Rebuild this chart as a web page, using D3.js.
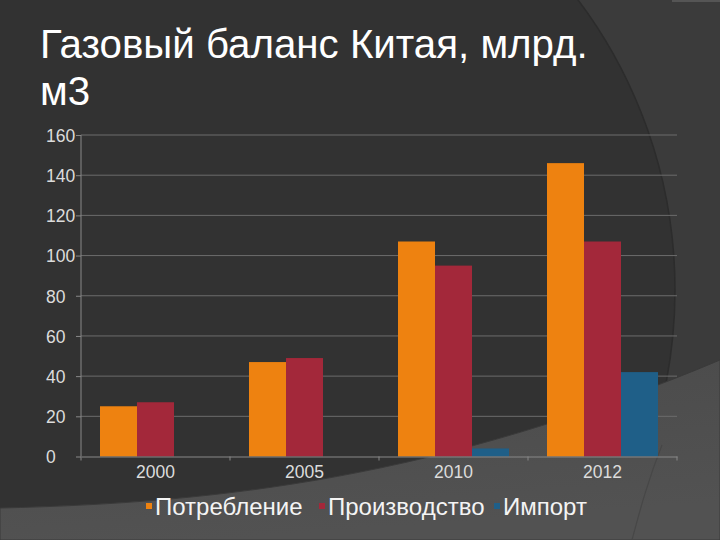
<!DOCTYPE html>
<html><head><meta charset="utf-8">
<script src="https://cdn.jsdelivr.net/npm/d3@7"></script>
<style>html,body{margin:0;padding:0;background:#333;}svg{display:block;}</style>
</head><body>
<svg id="c" width="720" height="540"></svg>
<script>
const titleLines = ["Газовый баланс Китая, млрд.", "м3"];
const categories = ["2000", "2005", "2010", "2012"];
const seriesNames = ["Потребление", "Производство", "Импорт"];
const consumption = [25, 47, 107, 146];
const production = [27, 49, 95, 107];
const imports = [0, 0, 4, 42];
const yTicks = [0, 20, 40, 60, 80, 100, 120, 140, 160];
const colors = ["#ee8210", "#a3283a", "#1f5f88"];

(function(){
const seriesValues = [consumption, production, imports];
const svg = d3.select("#c");
const W = 720, H = 540;

// background
const defs = svg.append("defs");
const g1 = defs.append("linearGradient").attr("id","lowg").attr("x1","0").attr("y1","0").attr("x2","0.3").attr("y2","1");
g1.append("stop").attr("offset","0").attr("stop-color","#4a4a4a");
g1.append("stop").attr("offset","1").attr("stop-color","#525252");
svg.append("rect").attr("width",W).attr("height",H).attr("fill","#3b3b3b");
svg.append("rect").attr("x",672).attr("y",0).attr("width",48).attr("height",2).attr("fill","#555");
svg.append("circle").attr("cx",193).attr("cy",290).attr("r",482).attr("fill","#323232").attr("stroke","#2c2c2c").attr("stroke-width",1.5);
svg.append("path").attr("d","M0,508 C220,503 440,478 720,360 L720,540 L0,540 Z").attr("fill","url(#lowg)").attr("stroke","#3a3a3a");
svg.append("path").attr("d","M632,540 C640,510 648,480 662,445").attr("fill","none").attr("stroke","#474747").attr("stroke-width",1.2);

// title (horizontally condensed like a narrow face)
const title = svg.append("g").attr("fill","#ffffff")
  .style("font-family","'Liberation Sans Narrow','Arial Narrow','Liberation Sans',Arial,sans-serif")
  .style("font-size","41px");
const t1 = title.append("text").attr("x",0).attr("y",58).text(titleLines[0]);
title.append("text").attr("x",0).attr("y",105).text(titleLines[1]);
const natural = t1.node().getComputedTextLength();
const sx = 548 / natural;
title.attr("transform",`translate(40,0) scale(${sx},1)`);

// scales
const pLeft = 81, pRight = 677, pTop = 135, pBottom = 456.5;
const x0 = d3.scaleBand().domain(categories).range([pLeft, pRight]).paddingInner(0).paddingOuter(0);
const x1 = d3.scaleBand().domain(seriesNames).range([19, x0.bandwidth()-19]).padding(0);
const y = d3.scaleLinear().domain([0,160]).range([pBottom, pTop]);

// gridlines
svg.append("g").selectAll("line").data(yTicks.filter(d=>d>0)).join("line")
  .attr("x1",pLeft).attr("x2",pRight).attr("y1",d=>y(d)).attr("y2",d=>y(d))
  .attr("stroke","#6c6c6c").attr("stroke-width",1);

// bars
const groups = svg.append("g").selectAll("g").data(categories).join("g")
  .attr("transform",d=>`translate(${x0(d)},0)`);
groups.selectAll("rect").data((c,i)=>seriesNames.map((s,j)=>({s, j, v: seriesValues[j][i]})).filter(d=>d.v>0)).join("rect")
  .attr("x",d=>x1(d.s)).attr("width",x1.bandwidth())
  .attr("y",d=>y(d.v)).attr("height",d=>y(0)-y(d.v))
  .attr("fill",d=>colors[d.j]);

// y axis
const yAxis = svg.append("g").attr("transform",`translate(${pLeft},0)`)
  .call(d3.axisLeft(y).tickValues(yTicks).tickSize(5).tickFormat(d3.format("d")));
yAxis.select(".domain").attr("stroke","#888").attr("d",`M0,${pTop}V${pBottom}`);
yAxis.selectAll(".tick line").attr("stroke","#888");
yAxis.selectAll(".tick text").attr("x",46-pLeft).attr("text-anchor","start").attr("dy","0.36em")
  .attr("fill","#dcdcdc").style("font-family","'Liberation Sans',Arial,sans-serif").style("font-size","17.5px");

// x axis
const xAxis = svg.append("g").attr("transform",`translate(0,${pBottom})`)
  .call(d3.axisBottom(x0).tickSize(0).tickPadding(9.5));
xAxis.select(".domain").attr("stroke","#888");
xAxis.selectAll(".tick text").attr("fill","#dcdcdc").attr("dy","0.71em")
  .style("font-family","'Liberation Sans',Arial,sans-serif").style("font-size","17.5px");
svg.append("g").selectAll("line").data(categories.concat(["end"])).join("line")
  .attr("x1",(d,i)=>pLeft + i*x0.bandwidth()).attr("x2",(d,i)=>pLeft + i*x0.bandwidth())
  .attr("y1",pBottom).attr("y2",pBottom+4).attr("stroke","#888");

// legend
const legendX = [146, 319, 494];
const lg = svg.append("g").style("font-family","'Liberation Sans',Arial,sans-serif").style("font-size","24px");
const items = lg.selectAll("g").data(seriesNames).join("g").attr("transform",(d,i)=>`translate(${legendX[i]},515)`);
items.append("rect").attr("x",0).attr("y",-12).attr("width",6).attr("height",6).attr("fill",(d,i)=>colors[i]);
items.append("text").attr("x",9).attr("y",0).attr("fill","#f4f4f4").text(d=>d);
})();
</script>
</body></html>
